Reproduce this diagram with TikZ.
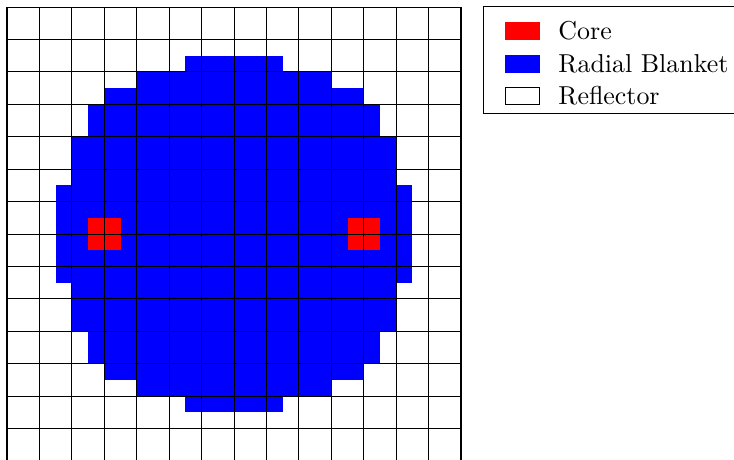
\documentclass[tikz,border=0pt]{standalone}
\usepackage{xcolor}
\usepackage{tikz}
\usetikzlibrary{positioning}
\definecolor{corered}{RGB}{255,0,0}
\definecolor{blanketblue}{RGB}{0,0,255}

\begin{document}
\begin{tikzpicture}[x=0.44cm, y=0.44cm,
    blanket/.style={fill=blanketblue},
    core/.style={fill=corered},
    gridline/.style={black, line width=0.4pt},
    keybox/.style={minimum width=0.453cm, minimum height=0.233cm,
                   inner sep=0pt, line width=0.4pt},
    legendtext/.style={inner sep=0pt, font=\normalsize}]
  \useasboundingbox (-0.216,0.062) rectangle (22.417,14.216);

  % radial blanket, stepped circle
  \foreach \a/\b in {5.5/1.5, 4/2, 3/2.5, 2.5/3, 2/4, 1.5/5.5}{
    \fill[blanket] (\a,\b) rectangle (14-\a,14-\b);
  }
  % core assemblies
  \foreach \x/\n in {2.5/left, 10.5/right}{
    \fill[core] (\x,6.5) rectangle ++(1,1);
  }
  % reflector grid
  \draw[gridline, step={(1,1)}] (0,0) grid (14,14);

  % legend
  \draw[gridline] (14.69,14.01) rectangle (23.2,10.72);
  \foreach \c/\d/\t/\n [count=\i] in {corered/corered/Core/core,
      blanketblue/blanketblue/Radial Blanket/blanket,
      white/black/Reflector/refl}{
    \node[keybox, fill=\c, draw=\d] (key\n) at (15.89,14.25-\i) {};
    \node[legendtext, anchor=base west] (label\n)
      at ([xshift=0.25cm, yshift=-0.115cm]key\n.east) {\t};
  }
\end{tikzpicture}
\end{document}
